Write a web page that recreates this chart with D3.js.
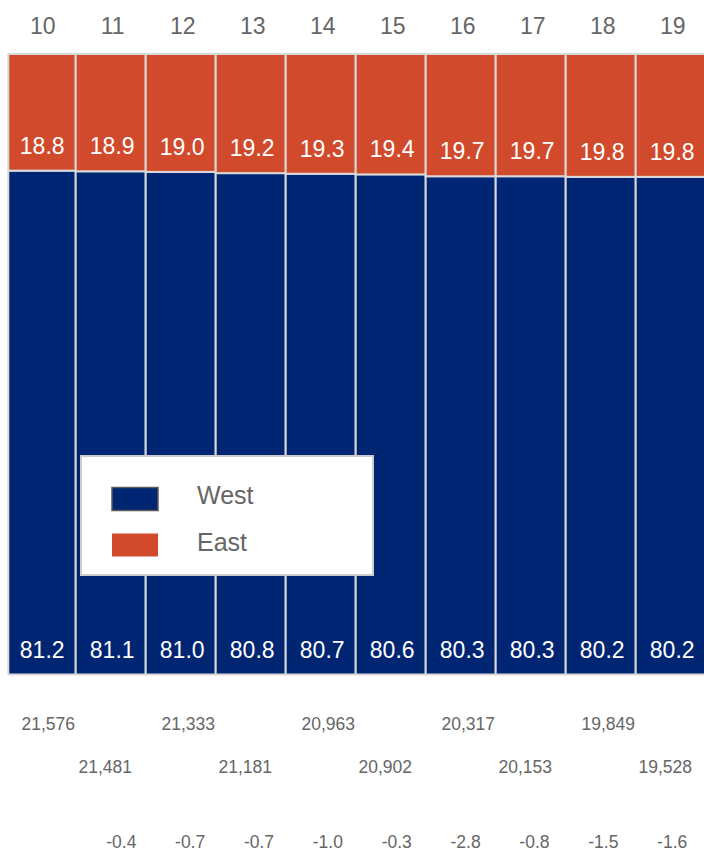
<!DOCTYPE html>
<html>
<head>
<meta charset="utf-8">
<script src="https://cdn.jsdelivr.net/npm/d3@7"></script>
<style>
  html, body { margin: 0; padding: 0; background: #fff; }
  svg { display: block; }
  text { font-family: "Liberation Sans", Arial, sans-serif; }
</style>
</head>
<body>
<svg id="chart" width="704" height="851"></svg>
<script>
// ---- data ----
const categories = ["10", "11", "12", "13", "14", "15", "16", "17", "18", "19"];
const westShare  = [81.2, 81.1, 81.0, 80.8, 80.7, 80.6, 80.3, 80.3, 80.2, 80.2];
const eastShare  = [18.8, 18.9, 19.0, 19.2, 19.3, 19.4, 19.7, 19.7, 19.8, 19.8];
const totals     = [21576, 21481, 21333, 21181, 20963, 20902, 20317, 20153, 19849, 19528];
const changes    = [null, -0.4, -0.7, -0.7, -1.0, -0.3, -2.8, -0.8, -1.5, -1.6];
const seriesNames = ["West", "East"];

const colors = { West: "#002673", East: "#d14a2b" };
const gridGray = "#d9d9d9";
const textGray = "#666666";

const rows = categories.map((c, i) => ({ cat: c, West: westShare[i], East: eastShare[i] }));

const svg = d3.select("#chart");

const x = d3.scaleBand().domain(categories).range([5.7, 705.7]).padding(0);
const y = d3.scaleLinear().domain([0, 100]).range([674.5, 54]);
const xChange = d3.scaleBand().domain(categories).range([18, 706.6]).padding(0);

const stack = d3.stack().keys(seriesNames);
const stacked = stack(rows);

// clip so the first bar starts at the plot's left edge
svg.append("defs").append("clipPath").attr("id", "plotclip")
  .append("rect").attr("x", 8.3).attr("y", 0).attr("width", 800).attr("height", 851);

const plot = svg.append("g").attr("clip-path", "url(#plotclip)");

plot.selectAll("g.series")
  .data(stacked)
  .join("g")
  .attr("class", "series")
  .attr("fill", d => colors[d.key])
  .selectAll("rect")
  .data(d => d)
  .join("rect")
  .attr("x", d => x(d.data.cat))
  .attr("width", x.bandwidth())
  .attr("y", d => y(d[1]))
  .attr("height", d => y(d[0]) - y(d[1]))
  .attr("stroke", gridGray)
  .attr("stroke-width", 2);

// left frame edge
svg.append("line")
  .attr("x1", 8.3).attr("x2", 8.3)
  .attr("y1", y(100)).attr("y2", y(0))
  .attr("stroke", gridGray).attr("stroke-width", 2);

// segment labels (at bottom of each segment)
stacked.forEach(s => {
  svg.append("g").selectAll("text")
    .data(s)
    .join("text")
    .attr("x", d => x(d.data.cat) + x.bandwidth() / 2 + 1.5)
    .attr("y", d => y(d[0]) - 17)
    .attr("text-anchor", "middle")
    .attr("fill", "#ffffff")
    .attr("font-size", 23)
    .text(d => (d[1] - d[0]).toFixed(1));
});

// top category labels
svg.append("g").selectAll("text")
  .data(categories)
  .join("text")
  .attr("x", d => x(d) + x.bandwidth() / 2 + 2)
  .attr("y", 33.5)
  .attr("text-anchor", "middle")
  .attr("fill", textGray)
  .attr("font-size", 23)
  .text(d => d);

// totals rows (staggered)
svg.append("g").selectAll("text")
  .data(totals)
  .join("text")
  .attr("x", (d, i) => x(categories[i]) + x.bandwidth() / 2 + (i % 2 ? -5.5 : 7.5))
  .attr("y", (d, i) => i % 2 ? 772.5 : 729.5)
  .attr("text-anchor", "middle")
  .attr("fill", textGray)
  .attr("font-size", 17.5)
  .text(d => d3.format(",")(d));

// change row
svg.append("g").selectAll("text")
  .data(changes)
  .join("text")
  .attr("x", (d, i) => xChange(categories[i]) + xChange.bandwidth() / 2)
  .attr("y", 848)
  .attr("text-anchor", "middle")
  .attr("fill", textGray)
  .attr("font-size", 17.5)
  .text(d => d == null ? "" : d.toFixed(1));

// legend
const legend = svg.append("g");
legend.append("rect")
  .attr("x", 81).attr("y", 456).attr("width", 292).attr("height", 119)
  .attr("fill", "#ffffff").attr("stroke", "#cccccc").attr("stroke-width", 2);

seriesNames.forEach((name, i) => {
  legend.append("rect")
    .attr("x", 112).attr("y", 487.5 + i * 46)
    .attr("width", 46).attr("height", 23)
    .attr("fill", colors[name])
    .attr("stroke", name === "West" ? "#5a5a5a" : colors[name])
    .attr("stroke-width", name === "West" ? 1.5 : 0);
  legend.append("text")
    .attr("x", 197).attr("y", 503.5 + i * 47.5)
    .attr("fill", textGray)
    .attr("font-size", 25)
    .text(name);
});
</script>
</body>
</html>
